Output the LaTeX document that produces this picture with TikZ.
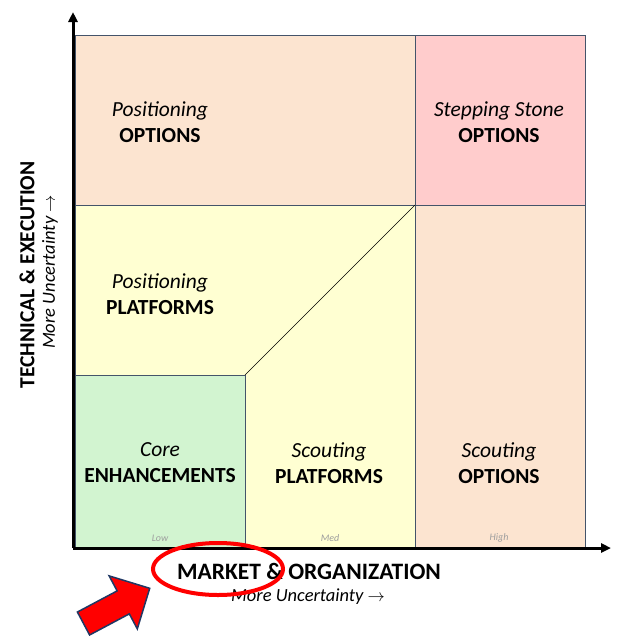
\documentclass[tikz,border=0pt]{standalone}
\usepackage{fontspec}
\setmainfont{Carlito}
\usetikzlibrary{arrows.meta,positioning}
\definecolor{qpeach}{RGB}{252,228,208}
\definecolor{qpink}{RGB}{255,204,204}
\definecolor{qyellow}{RGB}{255,255,210}
\definecolor{qgreen}{RGB}{210,244,208}
\definecolor{qedge}{RGB}{68,84,106}
\definecolor{qnavy}{RGB}{32,56,100}
\newcommand{\MoreUnc}{\itshape More Uncertainty~$\rightarrow$}

\begin{document}
\begin{tikzpicture}[x=1pt,y=-1pt,>={Triangle[length=10pt,width=9pt]},
  lbl/.style={align=center,font=\fontsize{21.5}{26}\selectfont},
  lvl/.style={font=\fontsize{10}{11}\selectfont\itshape,text=black!38}]
  \useasboundingbox (0,0) rectangle (622,641);
  % regions of the grid
  \filldraw[fill=qpeach,draw=qedge] (75,35) rectangle (415,205);
  \filldraw[fill=qpink,draw=qedge] (415,35) rectangle (585,205);
  \filldraw[fill=qpeach,draw=qedge] (415,205) rectangle (585,548);
  \filldraw[fill=qyellow,draw=qedge] (75,205) -- (415,205) -- (415,548) -- (245,548) -- (245,375) -- (75,375) -- cycle;
  \filldraw[fill=qgreen,draw=qedge] (75,375) rectangle (245,548);
  \draw[black] (245,375) -- (415,205);
  % region labels
  \node[lbl] (posopt) at (160,122) {\itshape Positioning\\\bfseries OPTIONS};
  \node[lbl] (stepopt) at (499,122) {\itshape Stepping Stone\\\bfseries OPTIONS};
  \node[lbl] (posplat) at (160,294) {\itshape Positioning\\\bfseries PLATFORMS};
  \node[lbl] (coreenh) at (160,463) {\itshape Core\\\bfseries ENHANCEMENTS};
  \node[lbl] (scoutplat) at (329,463) {\itshape Scouting\\\bfseries PLATFORMS};
  \node[lbl] (scoutopt) at (499,463) {\itshape Scouting\\\bfseries OPTIONS};
  % level marks
  \node[lvl] (low) at (160,538) {Low};
  \node[lvl] (med) at (330,538) {Med};
  \node[lvl] (high) at (499,538) {High};
  % axes
  \coordinate (orig) at (73,548);
  \coordinate (ytip) at (73,12);
  \coordinate (xtip) at (611,548);
  \draw[->,line width=3pt] (orig) -- (ytip);
  \draw[->,line width=3pt] (orig) -- (xtip);
  % axis titles
  \node[font=\fontsize{23.5}{26}\selectfont\bfseries] (xtitle) at (309,571) {MARKET \& ORGANIZATION};
  \node[font=\fontsize{18.5}{20}\selectfont] (xsub) at (308,597) {\MoreUnc};
  \node[font=\fontsize{21.5}{24}\selectfont\bfseries,rotate=90] (ytitle) at (27,275) {TECHNICAL \& EXECUTION};
  \node[font=\fontsize{18.5}{20}\selectfont,rotate=90] (ysub) at (50,272) {\MoreUnc};
  % highlight
  \draw[red,line width=4pt] (218,569) ellipse [x radius=65,y radius=26];
  \begin{scope}[shift={(83.5,623.5)},rotate=28]
    \filldraw[fill=red,draw=qnavy,line width=1.5pt,line join=miter]
      (0,-13) -- (45,-13) -- (45,-30) -- (75,0) -- (45,30) -- (45,13) -- (0,13) -- cycle;
  \end{scope}
\end{tikzpicture}
\end{document}
